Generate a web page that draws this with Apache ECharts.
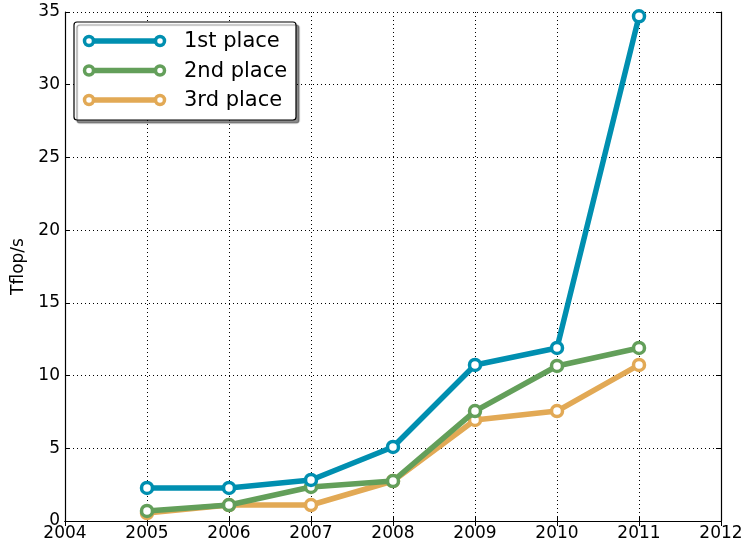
<!DOCTYPE html>
<html>
<head>
<meta charset="utf-8">
<script src="https://cdn.jsdelivr.net/npm/echarts@6/dist/echarts.min.js"></script>
<style>
  html, body { margin: 0; padding: 0; background: #fff; }
  #chart { width: 746px; height: 546px; }
</style>
</head>
<body>
<div id="chart"></div>
<script>
// Peak performance of the top three systems per year
const years = [2005, 2006, 2007, 2008, 2009, 2010, 2011];
const seriesNames = ['1st place', '2nd place', '3rd place'];
const firstPlace = [2.27, 2.27, 2.82, 5.09, 10.73, 11.9, 34.7];
const secondPlace = [0.69, 1.1, 2.34, 2.75, 7.56, 10.66, 11.9];
const thirdPlace = [0.55, 1.1, 1.1, 2.75, 6.95, 7.56, 10.73];
const colors = ['#008fb0', '#639f5a', '#e2a955'];
const yTicks = [0, 5, 10, 15, 20, 25, 30, 35];
const xTicks = [2004, 2005, 2006, 2007, 2008, 2009, 2010, 2011, 2012];

const FONT = 'DejaVu Sans';
const chart = echarts.init(document.getElementById('chart'), null, { renderer: 'canvas' });

const allValues = [firstPlace, secondPlace, thirdPlace];

const frameAxis = {
  axisLine: { show: true, lineStyle: { color: '#000', width: 1.2 } },
  axisTick: { show: true, inside: true, length: 5, lineStyle: { color: '#000', width: 1 } },
};

const series = allValues.map((vals, i) => ({
  name: seriesNames[i],
  type: 'line',
  data: years.map((y, k) => [y, vals[k]]),
  clip: false,
  symbol: 'circle',
  symbolSize: 11,
  z: 10 - i,
  lineStyle: { color: colors[i], width: 5.5 },
  itemStyle: { color: '#fff', borderColor: colors[i], borderWidth: 3.5 },
  emphasis: { disabled: true },
}));

// Legend box drawn with graphic elements (line + two markers per row)
const legendGraphics = [{
  type: 'rect',
  shape: { x: 74, y: 22, width: 222, height: 98, r: 3 },
  style: { fill: '#fff', stroke: '#000', lineWidth: 1.2, shadowColor: 'rgba(0,0,0,0.45)', shadowOffsetX: 3, shadowOffsetY: 3, shadowBlur: 1 },
  z: 100,
}];
seriesNames.forEach((name, i) => {
  const cy = 41 + i * 29.5;
  legendGraphics.push({
    type: 'line',
    shape: { x1: 89, y1: cy, x2: 160, y2: cy },
    style: { stroke: colors[i], lineWidth: 5.5 },
    z: 101,
  });
  [89, 160].forEach(cx => legendGraphics.push({
    type: 'circle',
    shape: { cx: cx, cy: cy, r: 4.5 },
    style: { fill: '#fff', stroke: colors[i], lineWidth: 3.5 },
    z: 102,
  }));
  legendGraphics.push({
    type: 'text',
    x: 184, y: cy + 1,
    style: { text: name, font: '21px "' + FONT + '"', fill: '#000', verticalAlign: 'middle', align: 'left' },
    z: 103,
  });
});

chart.setOption({
  animation: false,
  textStyle: { fontFamily: FONT },
  grid: { left: 65, right: 25, top: 12, bottom: 25, containLabel: false },
  xAxis: [
    Object.assign({
      type: 'value', min: xTicks[0], max: xTicks[xTicks.length - 1], interval: 1,
      position: 'bottom',
      axisLabel: { color: '#000', fontSize: 17, fontFamily: FONT, margin: 4, formatter: v => String(v) },
      splitLine: { show: true, lineStyle: { color: '#000', type: [1, 3], width: 1 } },
    }, frameAxis),
    Object.assign({
      type: 'value', min: xTicks[0], max: xTicks[xTicks.length - 1], interval: 1,
      position: 'top', axisLabel: { show: false }, splitLine: { show: false },
    }, frameAxis),
  ],
  yAxis: [
    Object.assign({
      type: 'value', min: yTicks[0], max: yTicks[yTicks.length - 1], interval: 5,
      position: 'left',
      name: 'Tflop/s', nameLocation: 'middle', nameGap: 35, nameRotate: 90,
      nameTextStyle: { color: '#000', fontSize: 17, fontFamily: FONT },
      axisLabel: { color: '#000', fontSize: 17, fontFamily: FONT, margin: 5 },
      splitLine: { show: true, lineStyle: { color: '#000', type: [1, 3], width: 1 } },
    }, frameAxis),
    Object.assign({
      type: 'value', min: yTicks[0], max: yTicks[yTicks.length - 1], interval: 5,
      position: 'right', axisLabel: { show: false }, splitLine: { show: false },
    }, frameAxis),
  ],
  series: series,
  graphic: legendGraphics,
});
</script>
</body>
</html>
